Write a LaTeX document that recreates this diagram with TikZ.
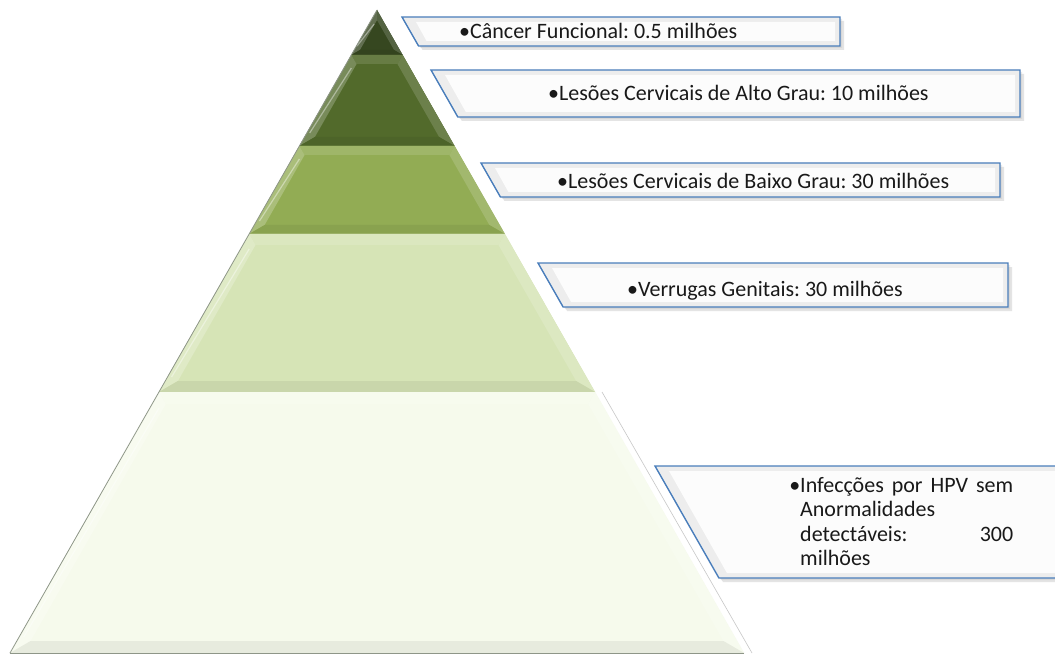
\documentclass[tikz,border=0pt]{standalone}
\usepackage{fontspec}
\setmainfont{Carlito}
\definecolor{lay1}{HTML}{364720}
\definecolor{lay2}{HTML}{526A2B}
\definecolor{lay3}{HTML}{92AC54}
\definecolor{lay4}{HTML}{D6E4B6}
\definecolor{lay5}{HTML}{F6FAEC}
\definecolor{boxblue}{HTML}{4A7EBB}
\definecolor{edgegray}{HTML}{8E9688}

% one band of the pyramid: top y, bottom y, colour, bevel width
\newcommand{\pyrband}[4]{%
  \pgfmathsetmacro\wt{0.5708*(#1-10)}%
  \pgfmathsetmacro\wb{0.5708*(#2-10)}%
  \pgfmathsetmacro\sh{1.151*#4}%
  \pgfmathsetmacro\ti{max(#1+#4,10+\sh/0.5708)}%
  \pgfmathsetmacro\bi{#2-#4}%
  \pgfmathsetmacro\wti{0.5708*(\ti-10)-\sh}%
  \pgfmathsetmacro\wbi{0.5708*(\bi-10)-\sh}%
  \fill[#3] (377-\wt,#1) -- (377+\wt,#1) -- (377+\wb,#2) -- (377-\wb,#2) -- cycle;
  \fill[#3!88!white] (377-\wt,#1) -- (377+\wt,#1) -- (377+\wti,\ti) -- (377-\wti,\ti) -- cycle;
  \fill[#3!78!white] (377-\wt,#1) -- (377-\wti,\ti) -- (377-\wbi,\bi) -- (377-\wb,#2) -- cycle;
  \fill[#3!85!white] (377+\wt,#1) -- (377+\wti,\ti) -- (377+\wbi,\bi) -- (377+\wb,#2) -- cycle;
  \fill[#3!94!black] (377-\wb,#2) -- (377-\wbi,\bi) -- (377+\wbi,\bi) -- (377+\wb,#2) -- cycle;
  \draw[white, opacity=.4, line width=1.2pt]
    (377-\wti-0.5*\sh,\ti+4) -- (377-\wbi-0.5*\sh,\bi-4);
  \draw[edgegray, line width=0.7pt] (377-\wb,#2) -- (377+\wb,#2);
}

% label frame with a slanted left side: left x at top, top y, right x, bottom y
\newcommand{\labelframe}[4]{%
  \pgfmathsetmacro\bl{#1+0.5708*(#4-#2)}%
  \fill[black!30, opacity=.35] (#1+4,#2+4) -- (#3+4,#2+4) -- (#3+4,#4+4) -- (\bl+4,#4+4) -- cycle;
  \fill[black!30, opacity=.25] (#1+2,#2+2) -- (#3+2,#2+2) -- (#3+2,#4+2) -- (\bl+2,#4+2) -- cycle;
  \fill[black!7] (#1,#2) -- (#3,#2) -- (#3,#4) -- (\bl,#4) -- cycle;
  \fill[black!1] (#1+14,#2+5) -- (#3-5,#2+5) -- (#3-5,#4-5) -- (\bl+8,#4-5) -- cycle;
  \draw[boxblue, line width=1.4pt, line join=miter] (#1,#2) -- (#3,#2) -- (#3,#4) -- (\bl,#4) -- cycle;
}

\tikzset{
  lbl/.style={font=\fontsize{22}{24.5}\selectfont\frenchspacing, text=black!90, inner sep=0pt},
}

\begin{document}
\begin{tikzpicture}[x=1pt, y=-1pt]
  \useasboundingbox (0,0) rectangle (1055,655);
  \clip (0,0) rectangle (1055,655);
  \fill[white] (0,0) rectangle (1055,655);

  % pyramid bands, top to bottom
  \pyrband{10}{55}{lay1}{5}
  \pyrband{55}{146}{lay2}{9}
  \pyrband{146}{234}{lay3}{9}
  \pyrband{234}{392}{lay4}{11}
  \pyrband{392}{653}{lay5}{12}
  % outline of the flanks
  \draw[edgegray, line width=0.8pt] (10,653) -- (377,10);
  \draw[black!22, line width=0.6pt] (602,392) -- (752,653);

  % label frames
  \labelframe{402}{17}{840}{46}
  \labelframe{431}{70}{1020}{117}
  \labelframe{481}{163}{1000}{197}
  \labelframe{538}{263}{1008}{307}
  \labelframe{655}{466}{1080}{578}

  % labels
  \node[lbl, anchor=west] (t1) at (459,31) {•Câncer Funcional: 0.5 milhões};
  \node[lbl, anchor=west] (t2) at (548,93) {•Lesões Cervicais de Alto Grau: 10 milhões};
  \node[lbl, anchor=west] (t3) at (557,181) {•Lesões Cervicais de Baixo Grau: 30 milhões};
  \node[lbl, anchor=west] (t4) at (627,291) {•Verrugas Genitais: 30 milhões};
  \node[lbl, anchor=north west, align=left] (t5) at (800,477)
    {\llap{•}\makebox[213pt][s]{Infecções por HPV sem}\\
     Anormalidades\\
     \makebox[213pt][s]{detectáveis:\hfill 300}\\
     milhões};
\end{tikzpicture}
\end{document}
